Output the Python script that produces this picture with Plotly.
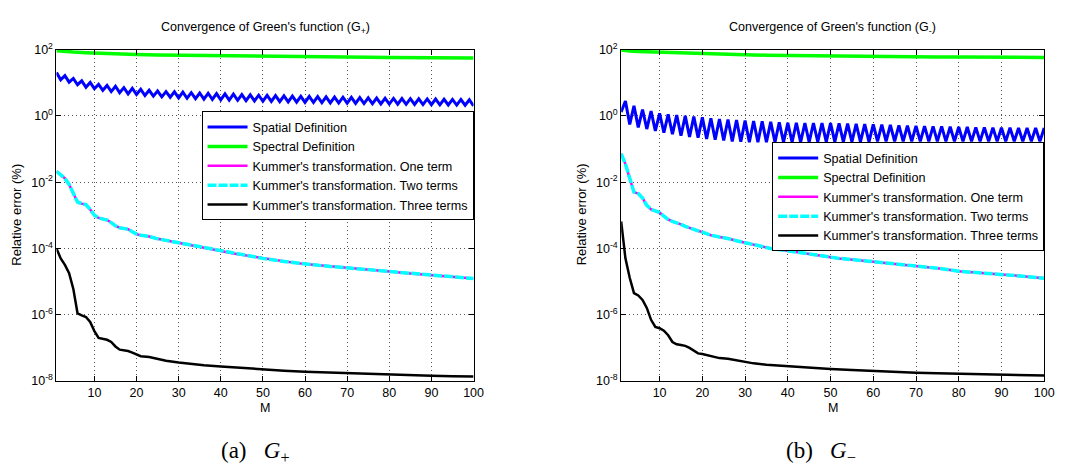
import plotly.graph_objects as go

# ---------------- data ----------------
M_full = list(range(1, 101))

# Left panel (G+)
plus_spatial = [20.4, 12.2, 16.3, 10.4, 13.5, 8.7, 11.4, 7.3, 10.2, 6.6,
                8.9, 5.9, 8.3, 5.4, 7.8, 5.0, 7.1, 4.6, 6.8, 4.4,
                6.3, 4.1, 5.9, 3.95, 5.6, 3.75, 5.4, 3.65, 5.3, 3.5,
                5.2, 3.4, 5.0, 3.3, 4.9, 3.2, 4.8, 3.12, 4.7, 3.05,
                4.6, 3.0, 4.5, 2.95, 4.4, 2.88, 4.3, 2.82, 4.2, 2.76,
                4.15, 2.72, 4.1, 2.68, 4.0, 2.64, 3.95, 2.6, 3.9, 2.56,
                3.85, 2.53, 3.8, 2.5, 3.75, 2.47, 3.7, 2.44, 3.65, 2.41,
                3.6, 2.38, 3.55, 2.35, 3.5, 2.32, 3.45, 2.3, 3.4, 2.27,
                3.35, 2.25, 3.32, 2.23, 3.3, 2.21, 3.27, 2.19, 3.24, 2.17,
                3.2, 2.15, 3.17, 2.13, 3.14, 2.11, 3.1, 2.09, 3.07, 2.0]

plus_spectral_M = [1, 2, 3, 5, 8, 10, 12, 15, 20, 25, 30, 35, 40, 45, 50,
                   55, 60, 65, 70, 75, 80, 85, 90, 95, 100]
plus_spectral = [92, 89, 87, 84, 80, 78, 76, 74, 71, 69, 67.5, 66, 64.5, 63.5, 62.5,
                 61.5, 60.5, 59.5, 59, 58.3, 57.7, 57.1, 56.6, 56.1, 55.6]

plus_kummer_M = [1, 2, 3, 4, 5, 6, 7, 8, 9, 10, 11, 12, 13, 14, 15, 16, 17, 18, 19, 20,
                 21, 23, 25, 27, 29, 31, 34, 37, 40, 43, 47, 50, 54, 58, 62, 66, 70,
                 75, 80, 85, 90, 95, 100]
plus_kummer_one = [2.1e-2, 1.6e-2, 1.3e-2, 8.5e-3, 4.5e-3, 2.5e-3, 2.25e-3, 2.1e-3, 1.5e-3, 1.0e-3,
                   8.3e-4, 7.7e-4, 7.2e-4, 6.0e-4, 4.8e-4, 4.2e-4, 4.0e-4, 3.8e-4, 3.2e-4, 2.7e-4,
                   2.5e-4, 2.3e-4, 1.95e-4, 1.75e-4, 1.5e-4, 1.35e-4, 1.18e-4, 9.8e-5, 8.4e-5, 7.0e-5,
                   5.8e-5, 5.0e-5, 4.2e-5, 3.6e-5, 3.2e-5, 2.85e-5, 2.6e-5, 2.3e-5, 2.0e-5, 1.75e-5,
                   1.55e-5, 1.38e-5, 1.23e-5]
plus_kummer_two = [2.1e-2, 1.6e-2, 1.3e-2, 8.5e-3, 4.5e-3, 2.5e-3, 2.25e-3, 2.1e-3, 1.5e-3, 1.0e-3,
                   8.3e-4, 7.7e-4, 7.2e-4, 6.0e-4, 4.8e-4, 4.2e-4, 4.0e-4, 3.8e-4, 3.2e-4, 2.7e-4,
                   2.5e-4, 2.3e-4, 1.95e-4, 1.75e-4, 1.5e-4, 1.35e-4, 1.18e-4, 9.8e-5, 8.4e-5, 7.0e-5,
                   5.8e-5, 5.0e-5, 4.2e-5, 3.6e-5, 3.2e-5, 2.85e-5, 2.6e-5, 2.3e-5, 2.0e-5, 1.75e-5,
                   1.55e-5, 1.38e-5, 1.23e-5]

plus_three_M = [1, 2, 3, 4, 5, 6, 7, 8, 9, 10, 11, 12, 13, 14, 15, 16, 17, 18, 19, 20,
                21, 23, 25, 27, 30, 33, 36, 40, 45, 50, 55, 60, 65, 70, 75, 80, 85, 90, 95, 100]
plus_kummer_three = [1.0e-4, 5e-5, 3.2e-5, 1.8e-5, 6e-6, 1.1e-6, 9.5e-7, 8.5e-7, 6e-7, 3.2e-7,
                     2.0e-7, 1.85e-7, 1.75e-7, 1.5e-7, 1.1e-7, 8.8e-8, 8.5e-8, 8e-8, 7.2e-8, 6.2e-8,
                     5.6e-8, 5.3e-8, 4.6e-8, 4.1e-8, 3.6e-8, 3.25e-8, 3.0e-8, 2.75e-8, 2.45e-8, 2.25e-8,
                     2.05e-8, 1.9e-8, 1.8e-8, 1.7e-8, 1.62e-8, 1.55e-8, 1.49e-8, 1.44e-8, 1.4e-8, 1.37e-8]

# Right panel (G-)
minus_spatial = [1.3, 2.8, 0.55, 2.0, 0.45, 1.55, 0.4, 1.4, 0.35, 1.2,
                 0.31, 1.12, 0.28, 1.05, 0.25, 1.0, 0.23, 0.95, 0.22, 0.9,
                 0.2, 0.85, 0.19, 0.8, 0.18, 0.78, 0.17, 0.75, 0.165, 0.72,
                 0.16, 0.7, 0.16, 0.68, 0.16, 0.66, 0.16, 0.64, 0.16, 0.62,
                 0.16, 0.62, 0.16, 0.61, 0.16, 0.61, 0.165, 0.6, 0.165, 0.6,
                 0.165, 0.59, 0.165, 0.58, 0.165, 0.57, 0.165, 0.56, 0.165, 0.55,
                 0.17, 0.54, 0.17, 0.53, 0.17, 0.52, 0.17, 0.51, 0.17, 0.5,
                 0.17, 0.49, 0.17, 0.48, 0.17, 0.48, 0.17, 0.47, 0.17, 0.46,
                 0.17, 0.46, 0.17, 0.45, 0.17, 0.45, 0.17, 0.44, 0.17, 0.44,
                 0.17, 0.44, 0.17, 0.43, 0.17, 0.43, 0.17, 0.43, 0.17, 0.43]

minus_spectral_M = [1, 2, 3, 5, 8, 10, 12, 15, 20, 25, 30, 35, 40, 45, 50,
                    55, 60, 65, 70, 75, 80, 85, 90, 95, 100]
minus_spectral = [97, 93, 91, 88, 85, 83, 81, 78, 74, 71.5, 69.5, 67.8, 66.3, 65, 64,
                  63, 62, 61.3, 60.6, 60, 59.5, 59, 58.5, 58.1, 57.7]

minus_kummer_M = [1, 2, 3, 4, 5, 6, 7, 8, 9, 10, 11, 12, 13, 14, 15, 16, 17, 18, 19, 20,
                  22, 24, 26, 28, 30, 33, 36, 40, 44, 48, 52, 56, 60, 64, 68, 72, 76,
                  80, 85, 90, 95, 100]
minus_kummer_one = [7.2e-2, 3.5e-2, 1.3e-2, 5.0e-3, 4.5e-3, 3.3e-3, 2.0e-3, 1.5e-3, 1.35e-3, 1.2e-3,
                    9.5e-4, 7.5e-4, 6.5e-4, 6.0e-4, 5.3e-4, 4.6e-4, 4.1e-4, 3.7e-4, 3.4e-4, 3.1e-4,
                    2.5e-4, 2.2e-4, 2.0e-4, 1.7e-4, 1.48e-4, 1.18e-4, 1.0e-4, 8.5e-5, 7.1e-5, 6.0e-5,
                    5.0e-5, 4.5e-5, 4.0e-5, 3.55e-5, 3.15e-5, 2.8e-5, 2.45e-5, 2.05e-5, 1.85e-5, 1.65e-5,
                    1.45e-5, 1.26e-5]
minus_kummer_two = [7.2e-2, 3.5e-2, 1.3e-2, 5.0e-3, 4.5e-3, 3.3e-3, 2.0e-3, 1.5e-3, 1.35e-3, 1.2e-3,
                    9.5e-4, 7.5e-4, 6.5e-4, 6.0e-4, 5.3e-4, 4.6e-4, 4.1e-4, 3.7e-4, 3.4e-4, 3.1e-4,
                    2.5e-4, 2.2e-4, 2.0e-4, 1.7e-4, 1.48e-4, 1.18e-4, 1.0e-4, 8.5e-5, 7.1e-5, 6.0e-5,
                    5.0e-5, 4.5e-5, 4.0e-5, 3.55e-5, 3.15e-5, 2.8e-5, 2.45e-5, 2.05e-5, 1.85e-5, 1.65e-5,
                    1.45e-5, 1.26e-5]

minus_three_M = [1, 2, 3, 4, 5, 6, 7, 8, 9, 10, 11, 12, 13, 14, 15, 16, 17, 18, 19, 20,
                 22, 24, 26, 29, 32, 35, 40, 45, 50, 55, 60, 65, 70, 75, 80, 85, 90, 95, 100]
minus_kummer_three = [6.5e-4, 5e-5, 1.3e-5, 4.5e-6, 3.8e-6, 2.8e-6, 1.6e-6, 7e-7, 4.3e-7, 3.9e-7,
                      3.3e-7, 2.4e-7, 1.5e-7, 1.28e-7, 1.22e-7, 1.15e-7, 1.0e-7, 8e-8, 6.8e-8, 6.5e-8,
                      5.6e-8, 4.9e-8, 4.7e-8, 3.9e-8, 3.4e-8, 3.1e-8, 2.8e-8, 2.5e-8, 2.3e-8, 2.15e-8,
                      2.0e-8, 1.88e-8, 1.78e-8, 1.7e-8, 1.65e-8, 1.6e-8, 1.54e-8, 1.5e-8, 1.47e-8]

series_names = ["Spatial Definition", "Spectral Definition",
                "Kummer's transformation. One term", "Kummer's transformation. Two terms",
                "Kummer's transformation. Three terms"]

x_ticks = [10, 20, 30, 40, 50, 60, 70, 80, 90, 100]
y_tickvals = [1e2, 1e0, 1e-2, 1e-4, 1e-6, 1e-8]
y_ticktext = ["10<sup>2</sup>", "10<sup>0</sup>", "10<sup>-2</sup>",
              "10<sup>-4</sup>", "10<sup>-6</sup>", "10<sup>-8</sup>"]

titles = ["Convergence of Green's function (G<sub>+</sub>)",
          "Convergence of Green's function (G<sub>-</sub>)"]
captions = ["(a)&nbsp;&nbsp;&nbsp;<i>G</i><sub>+</sub>", "(b)&nbsp;&nbsp;&nbsp;<i>G</i><sub>\u2212</sub>"]

# ---------------- figure ----------------
W, H = 1074, 473
FONT = "Liberation Sans, Arial, sans-serif"

fig = go.Figure()

panels = [
    dict(xa="x", ya="y", legend="legend",
         spatial=plus_spatial, spec_M=plus_spectral_M, spec=plus_spectral,
         k_M=plus_kummer_M, k1=plus_kummer_one, k2=plus_kummer_two,
         k3_M=plus_three_M, k3=plus_kummer_three),
    dict(xa="x2", ya="y2", legend="legend2",
         spatial=minus_spatial, spec_M=minus_spectral_M, spec=minus_spectral,
         k_M=minus_kummer_M, k1=minus_kummer_one, k2=minus_kummer_two,
         k3_M=minus_three_M, k3=minus_kummer_three),
]

for p in panels:
    common = dict(xaxis=p["xa"], yaxis=p["ya"], legend=p["legend"], mode="lines")
    fig.add_trace(go.Scatter(x=M_full, y=p["spatial"], name=series_names[0],
                             line=dict(color="#0000FF", width=3), legendgroup=p["legend"] + "a", **common))
    fig.add_trace(go.Scatter(x=p["spec_M"], y=p["spec"], name=series_names[1],
                             line=dict(color="#00FF00", width=3.5), legendgroup=p["legend"] + "b", **common))
    fig.add_trace(go.Scatter(x=p["k_M"], y=p["k1"], name=series_names[2],
                             line=dict(color="#FF00FF", width=2.5), legendgroup=p["legend"] + "c", **common))
    fig.add_trace(go.Scatter(x=p["k_M"], y=p["k2"], name=series_names[3],
                             line=dict(color="#00FFFF", width=3.5, dash="9px,2px"), legendgroup=p["legend"] + "d", **common))
    fig.add_trace(go.Scatter(x=p["k3_M"], y=p["k3"], name=series_names[4],
                             line=dict(color="#000000", width=2.5), legendgroup=p["legend"] + "e", **common))

def px_x(v):
    return v / W

def px_y(v):
    return 1 - v / H

ydom = [px_y(385), px_y(42)]
xdoms = [[px_x(57), px_x(478)], [px_x(627), px_x(1054)]]

axis_common = dict(showline=True, linecolor="black", linewidth=1, mirror="ticks",
                   ticks="inside", ticklen=5, tickcolor="black",
                   showgrid=True, gridcolor="#555555", gridwidth=1, griddash="1px,3px",
                   zeroline=False, tickfont=dict(family=FONT, size=12.5, color="black"))

layout_axes = {}
for i, xd in enumerate(xdoms):
    sfx = "" if i == 0 else "2"
    layout_axes["xaxis" + sfx] = dict(domain=xd, range=[1, 100], tickvals=x_ticks,
                                      anchor="y" + sfx, **axis_common)
    layout_axes["yaxis" + sfx] = dict(domain=ydom, type="log", range=[-8, 2],
                                      tickvals=y_tickvals, ticktext=y_ticktext,
                                      anchor="x" + sfx, **axis_common)

annotations = []
for i, xd in enumerate(xdoms):
    cx = (xd[0] + xd[1]) / 2
    annotations.append(dict(text=titles[i], x=cx, y=px_y(20), xref="paper", yref="paper",
                            showarrow=False, font=dict(family=FONT, size=12.5, color="black"),
                            xanchor="center", yanchor="middle"))
    annotations.append(dict(text="M", x=cx, y=px_y(413), xref="paper", yref="paper",
                            showarrow=False, font=dict(family=FONT, size=12.5, color="black"),
                            xanchor="center", yanchor="middle"))
    annotations.append(dict(text="Relative error (%)", x=px_x([17, 587][i]), y=px_y(213),
                            xref="paper", yref="paper", textangle=-90,
                            showarrow=False, font=dict(family=FONT, size=13, color="black"),
                            xanchor="center", yanchor="middle"))
    annotations.append(dict(text=captions[i], x=px_x([257, 829][i]), y=px_y(459),
                            xref="paper", yref="paper",
                            showarrow=False, font=dict(family="Liberation Serif, DejaVu Serif, serif", size=23, color="black"),
                            xanchor="center", yanchor="middle"))

legend_common = dict(bgcolor="white", bordercolor="black", borderwidth=1,
                     font=dict(family=FONT, size=12.6, color="black"),
                     xanchor="right", yanchor="top", tracegroupgap=0, itemwidth=40)

fig.update_layout(
    width=W, height=H, margin=dict(l=0, r=0, t=0, b=0),
    paper_bgcolor="white", plot_bgcolor="white",
    showlegend=True,
    legend=dict(x=px_x(478), y=px_y(106), **legend_common),
    legend2=dict(x=px_x(1054), y=px_y(138), **legend_common),
    annotations=annotations,
    **layout_axes,
)

fig.write_html("out.html",
               post_script="document.body.style.margin='0';document.body.style.overflow='hidden';")
